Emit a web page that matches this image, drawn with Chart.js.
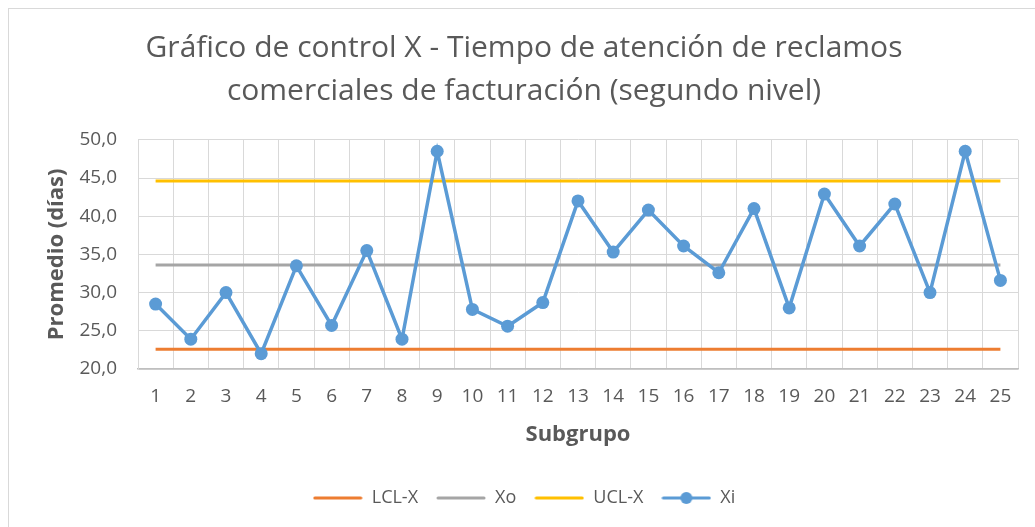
<!DOCTYPE html>
<html>
<head>
<meta charset="utf-8">
<script src="https://cdn.jsdelivr.net/npm/chart.js@4/dist/chart.umd.min.js"></script>
<style>
  body { margin: 0; background: #fff; overflow: hidden; }
  #frame { position: absolute; left: 8px; top: 8px; width: 1060px; height: 560px; border: 1px solid #d9d9d9; }
  #chart { position: absolute; left: 0; top: 0; }
</style>
</head>
<body>
<div id="frame"></div>
<canvas id="chart" width="1035" height="527"></canvas>
<script>
'use strict';

var subgrupos = ['1','2','3','4','5','6','7','8','9','10','11','12','13','14','15','16','17','18','19','20','21','22','23','24','25'];
var xi = [28.5, 23.9, 30.0, 22.0, 33.5, 25.7, 35.5, 23.9, 48.5, 27.8, 25.6, 28.7, 42.0, 35.3, 40.8, 36.1, 32.6, 41.0, 28.0, 42.9, 36.1, 41.6, 30.0, 48.5, 31.6];
var lclX = [22.6, 22.6, 22.6, 22.6, 22.6, 22.6, 22.6, 22.6, 22.6, 22.6, 22.6, 22.6, 22.6, 22.6, 22.6, 22.6, 22.6, 22.6, 22.6, 22.6, 22.6, 22.6, 22.6, 22.6, 22.6];
var xo = [33.6, 33.6, 33.6, 33.6, 33.6, 33.6, 33.6, 33.6, 33.6, 33.6, 33.6, 33.6, 33.6, 33.6, 33.6, 33.6, 33.6, 33.6, 33.6, 33.6, 33.6, 33.6, 33.6, 33.6, 33.6];
var uclX = [44.6, 44.6, 44.6, 44.6, 44.6, 44.6, 44.6, 44.6, 44.6, 44.6, 44.6, 44.6, 44.6, 44.6, 44.6, 44.6, 44.6, 44.6, 44.6, 44.6, 44.6, 44.6, 44.6, 44.6, 44.6];

var textColor = '#595959';
var fontName = "'Open Sans', sans-serif";

// small canvases used as legend symbols
var legendIcon = function(color, withDot) {
  var c = document.createElement('canvas');
  c.width = 50;
  c.height = 14;
  var ctx = c.getContext('2d');
  ctx.strokeStyle = color;
  ctx.lineWidth = 3;
  ctx.lineCap = 'round';
  ctx.beginPath();
  ctx.moveTo(2, 7);
  ctx.lineTo(48, 7);
  ctx.stroke();
  if (withDot) {
    ctx.fillStyle = color;
    ctx.beginPath();
    ctx.arc(25, 7, 6, 0, Math.PI * 2);
    ctx.fill();
  }
  return c;
};

var lineSet = function(label, data, color) {
  return {
    label: label,
    data: data,
    borderColor: color,
    backgroundColor: color,
    borderWidth: 3,
    pointRadius: 0,
    pointHoverRadius: 0,
    fill: false,
    order: 1,
    icon: legendIcon(color, false)
  };
};

var datasets = [
  lineSet('LCL-X', lclX, '#ED7D31'),
  lineSet('Xo', xo, '#A5A5A5'),
  lineSet('UCL-X', uclX, '#FFC000'),
  {
    label: 'Xi',
    data: xi,
    borderColor: '#5B9BD5',
    backgroundColor: '#5B9BD5',
    borderWidth: 3.5,
    pointRadius: 6.5,
    pointBorderWidth: 0,
    fill: false,
    order: 0,
    icon: legendIcon('#5B9BD5', true)
  }
];

new Chart(document.getElementById('chart').getContext('2d'), {
  type: 'line',
  data: { labels: subgrupos, datasets: datasets },
  options: {
    responsive: false,
    animation: false,
    layout: { padding: { left: 30, right: 17, top: 0, bottom: 10 } },
    plugins: {
      title: {
        display: true,
        text: ['Gráfico de control X - Tiempo de atención de reclamos', 'comerciales de facturación (segundo nivel)'],
        color: textColor,
        font: { family: fontName, size: 30, weight: 'normal', lineHeight: 1.43 },
        padding: { top: 27, bottom: 27 }
      },
      legend: {
        position: 'bottom',
        labels: {
          usePointStyle: true,
          pointStyleWidth: 50,
          color: textColor,
          font: { family: fontName, size: 18 },
          padding: 18,
          generateLabels: function(chart) {
            return chart.data.datasets.map(function(ds, i) {
              return {
                text: ds.label,
                pointStyle: ds.icon,
                fontColor: textColor,
                fillStyle: 'transparent',
                strokeStyle: 'transparent',
                lineWidth: 0,
                hidden: false,
                datasetIndex: i
              };
            });
          }
        }
      },
      tooltip: { enabled: false }
    },
    scales: {
      x: {
        offset: true,
        grid: { offset: true, color: '#d9d9d9', lineWidth: 1, drawTicks: false },
        border: { color: '#bfbfbf', width: 1.5 },
        ticks: { color: textColor, font: { family: fontName, size: 19 }, padding: 16, maxRotation: 0, autoSkip: false },
        title: {
          display: true,
          text: 'Subgrupo',
          color: textColor,
          font: { family: fontName, size: 22, weight: 'bold' },
          padding: { top: 0, bottom: 23 }
        },
        afterFit: function(scale) { scale.height = 102; }
      },
      y: {
        min: 20,
        max: 50,
        grid: { color: '#d9d9d9', lineWidth: 1, drawTicks: false },
        border: { color: '#d9d9d9' },
        ticks: {
          stepSize: 5,
          color: textColor,
          font: { family: fontName, size: 19 },
          padding: 21,
          callback: function(v) { return v.toFixed(1).replace('.', ','); }
        },
        title: {
          display: true,
          text: 'Promedio (días)',
          color: textColor,
          font: { family: fontName, size: 22, weight: 'bold' },
          padding: { top: 14, bottom: 0 }
        },
        afterFit: function(scale) { scale.width = 108; }
      }
    }
  }
});
</script>
</body>
</html>
